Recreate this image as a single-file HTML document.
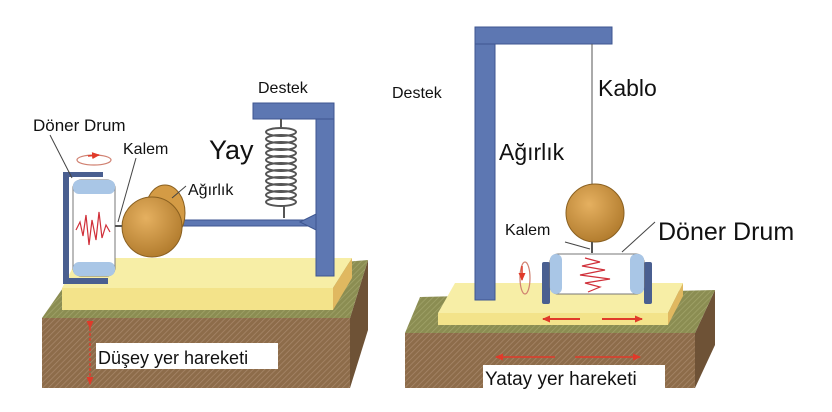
<!DOCTYPE html>
<html><head><meta charset="utf-8"><style>
html,body{margin:0;padding:0;background:#fff;}
svg{display:block;}
text{font-family:"Liberation Sans",sans-serif;fill:#111;}
</style></head><body>
<svg width="832" height="412" viewBox="0 0 832 412" xmlns="http://www.w3.org/2000/svg">
<defs>
<pattern id="hb" width="4" height="4" patternUnits="userSpaceOnUse" patternTransform="rotate(45)">
<rect width="4" height="4" fill="#8d6c4a"/><line x1="0" y1="0" x2="0" y2="4" stroke="#a8876a" stroke-width="1.5"/></pattern>
<pattern id="hg" width="4" height="4" patternUnits="userSpaceOnUse" patternTransform="rotate(45)">
<rect width="4" height="4" fill="#8b8d52"/><line x1="0" y1="0" x2="0" y2="4" stroke="#a2a46a" stroke-width="1.5"/></pattern>
<radialGradient id="ball" cx="0.4" cy="0.35" r="0.7"><stop offset="0" stop-color="#e5b060"/><stop offset="1" stop-color="#b07a2c"/></radialGradient>
<marker id="ar" markerUnits="userSpaceOnUse" markerWidth="8" markerHeight="7" refX="7" refY="3.5" orient="auto"><path d="M0,0 L8,3.5 L0,7 z" fill="#e03a2a"/></marker>
</defs>

<!-- LEFT GROUND -->
<polygon points="350,318 368,260 368,330 350,388" fill="#6e5236"/>
<rect x="42" y="318" width="308" height="70" fill="url(#hb)"/>
<polygon points="42,318 65,285 368,260 350,318" fill="url(#hg)"/>
<polygon points="62,288 78,258 352,258 333,288" fill="#f7eea6"/>
<rect x="62" y="288" width="271" height="22" fill="#f3e38a"/>
<polygon points="333,288 352,258 352,278 333,310" fill="#e0b860"/>
<rect x="316" y="103" width="18" height="173" fill="#5d77b2" stroke="#3e5690"/>
<rect x="253" y="103" width="81" height="16" fill="#5d77b2" stroke="#3e5690"/>
<g fill="none" stroke="#555" stroke-width="2">
<line x1="281" y1="119" x2="281" y2="128"/>
<ellipse cx="281" cy="132" rx="15" ry="4"/><ellipse cx="281" cy="139" rx="15" ry="4"/><ellipse cx="281" cy="146" rx="15" ry="4"/><ellipse cx="281" cy="153" rx="15" ry="4"/><ellipse cx="281" cy="160" rx="15" ry="4"/><ellipse cx="281" cy="167" rx="15" ry="4"/><ellipse cx="281" cy="174" rx="15" ry="4"/><ellipse cx="281" cy="181" rx="15" ry="4"/><ellipse cx="281" cy="188" rx="15" ry="4"/><ellipse cx="281" cy="195" rx="15" ry="4"/><ellipse cx="281" cy="202" rx="15" ry="4"/>
<line x1="284" y1="206" x2="284" y2="218"/>
</g>
<rect x="180" y="220" width="136" height="6" fill="#5d77b2" stroke="#3e5690"/>
<polygon points="300,222 316,214 316,230" fill="#5d77b2" stroke="#3e5690"/>
<ellipse cx="165" cy="213" rx="20" ry="28" fill="#d49b45" stroke="#8a6020"/>
<circle cx="152" cy="227" r="30" fill="url(#ball)" stroke="#8a6020"/>
<rect x="63" y="172" width="6" height="111" fill="#4a5f90"/>
<rect x="63" y="172" width="40" height="5" fill="#4a5f90"/>
<rect x="63" y="278" width="45" height="6" fill="#4a5f90"/>
<rect x="73" y="180" width="42" height="96" rx="8" fill="#fff" stroke="#777"/>
<rect x="73" y="180" width="42" height="14" rx="6" fill="#a9c6e6"/>
<rect x="73" y="262" width="42" height="14" rx="6" fill="#a9c6e6"/>
<polyline points="76,230 80,222 83,236 86,215 89,245 92,220 96,240 99,212 102,238 106,225 110,232" fill="none" stroke="#d0303a" stroke-width="1.2"/>
<line x1="115" y1="226" x2="122" y2="226" stroke="#555" stroke-width="2"/>
<ellipse cx="94" cy="160" rx="17" ry="5" fill="none" stroke="#d08070" stroke-width="1.2"/>
<path d="M88,156 L99,155" stroke="#e03a2a" stroke-width="1.5" marker-end="url(#ar)"/>
<line x1="50" y1="135" x2="72" y2="178" stroke="#444"/>
<line x1="136" y1="158" x2="118" y2="222" stroke="#444"/>
<line x1="186" y1="186" x2="172" y2="198" stroke="#444"/>
<line x1="90" y1="328" x2="90" y2="384" stroke="#e03a2a" stroke-width="1.5" stroke-dasharray="3,2" marker-start="url(#ar)" marker-end="url(#ar)"/>
<rect x="96" y="343" width="182" height="26" fill="#fff"/>
<text x="98" y="364" font-size="18">Düşey yer hareketi</text>
<text x="33" y="131" font-size="17">Döner Drum</text>
<text x="123" y="154" font-size="16">Kalem</text>
<text x="209" y="159" font-size="27">Yay</text>
<text x="188" y="195" font-size="16">Ağırlık</text>
<text x="258" y="93" font-size="16">Destek</text>

<!-- RIGHT GROUND -->
<polygon points="695,333 715,290 715,345 695,388" fill="#6e5236"/>
<rect x="405" y="333" width="290" height="55" fill="url(#hb)"/>
<polygon points="405,333 420,297 715,290 695,333" fill="url(#hg)"/>
<polygon points="438,313 455,283 683,283 668,313" fill="#f7eea6"/>
<rect x="438" y="313" width="230" height="12" fill="#f3e38a"/>
<polygon points="668,313 683,283 683,296 668,325" fill="#e0b860"/>
<rect x="475" y="27" width="20" height="273" fill="#5d77b2" stroke="#3e5690"/>
<rect x="475" y="27" width="137" height="17" fill="#5d77b2" stroke="#3e5690"/>
<line x1="592" y1="44" x2="592" y2="186" stroke="#555"/>
<circle cx="595" cy="213" r="29" fill="url(#ball)" stroke="#8a6020"/>
<line x1="592" y1="242" x2="592" y2="253" stroke="#555" stroke-width="2"/>
<rect x="542" y="262" width="8" height="42" rx="2" fill="#4a5f90"/>
<rect x="644" y="262" width="8" height="42" rx="2" fill="#4a5f90"/>
<rect x="550" y="254" width="94" height="40" rx="8" fill="#fff" stroke="#777"/>
<rect x="630" y="254" width="14" height="40" rx="6" fill="#a9c6e6"/>
<rect x="550" y="254" width="12" height="40" rx="6" fill="#a9c6e6"/>
<polyline points="585,258 600,262 582,266 605,270 580,275 610,279 585,283 600,287 588,292" fill="none" stroke="#d0303a" stroke-width="1.2"/>
<ellipse cx="525" cy="278" rx="5" ry="16" fill="none" stroke="#d08070" stroke-width="1.2"/>
<line x1="522" y1="266" x2="522" y2="280" stroke="#e03a2a" stroke-width="1.5" marker-end="url(#ar)"/>
<line x1="565" y1="242" x2="590" y2="249" stroke="#444"/>
<line x1="655" y1="222" x2="622" y2="252" stroke="#444"/>
<line x1="580" y1="319" x2="543" y2="319" stroke="#e03a2a" stroke-width="2" marker-end="url(#ar)"/>
<line x1="602" y1="319" x2="642" y2="319" stroke="#e03a2a" stroke-width="2" marker-end="url(#ar)"/>
<line x1="555" y1="357" x2="496" y2="357" stroke="#e03a2a" stroke-width="1.5" marker-end="url(#ar)"/>
<line x1="575" y1="357" x2="640" y2="357" stroke="#e03a2a" stroke-width="1.5" marker-end="url(#ar)"/>
<rect x="483" y="365" width="182" height="25" fill="#fff"/>
<text x="485" y="385" font-size="19">Yatay yer hareketi</text>
<text x="392" y="98" font-size="16">Destek</text>
<text x="598" y="96" font-size="23">Kablo</text>
<text x="499" y="160" font-size="23">Ağırlık</text>
<text x="505" y="235" font-size="16">Kalem</text>
<text x="658" y="240" font-size="25">Döner Drum</text>
</svg>
</body></html>
